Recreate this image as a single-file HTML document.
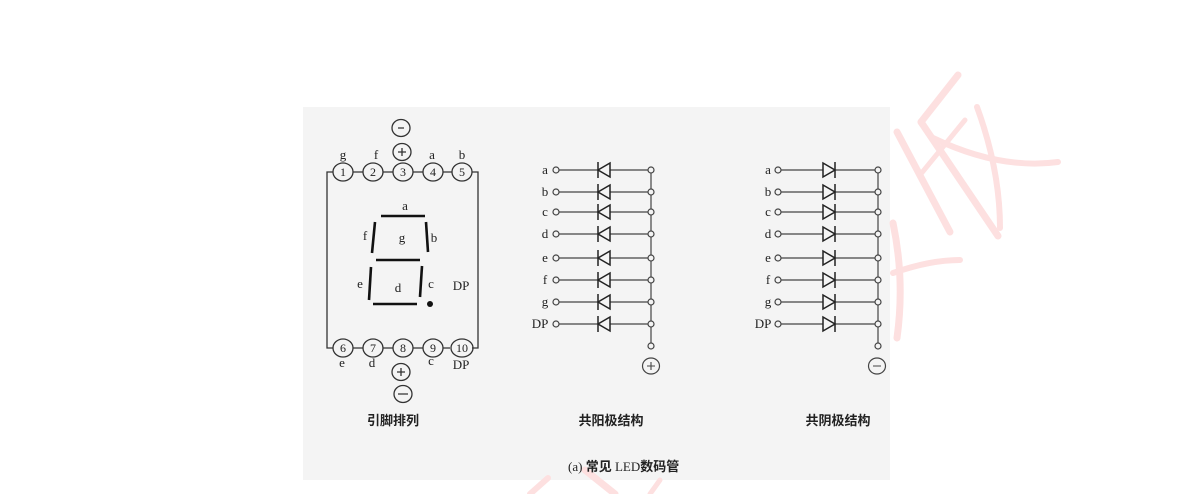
<!DOCTYPE html>
<html><head><meta charset="utf-8"><style>
html,body{margin:0;padding:0;background:#fff;}
svg{display:block;}
text{font-family:"Liberation Serif","Noto Serif CJK SC",serif;fill:#222;}
.cj{font-family:"Liberation Serif","Noto Sans CJK SC",sans-serif;font-weight:bold;}
</style></head><body>
<svg width="1194" height="494" viewBox="0 0 1194 494" xmlns="http://www.w3.org/2000/svg">
<defs>
<g id="dA"><path d="M610 -7 L598 0 L610 7 Z"/><path d="M598 -8 V8"/></g>
<g id="dK"><path d="M823 -7 L835 0 L823 7 Z"/><path d="M835 -8 V8"/></g>
</defs>
<rect x="303" y="107" width="587" height="373" fill="#f4f4f4"/>
<!-- watermark -->
<g stroke="#fde0e0" fill="none" stroke-linecap="round">
<path d="M958 75 L921 122" stroke-width="7"/>
<path d="M921 122 Q960 180 998 236" stroke-width="7"/>
<path d="M977 107 Q1000 170 1000 228" stroke-width="6"/>
<path d="M897 132 Q925 185 950 232" stroke-width="7"/>
<path d="M933 138 Q1000 170 1058 162" stroke-width="6"/>
<path d="M965 120 L920 175" stroke-width="5"/>
<path d="M893 223 Q905 280 897 338" stroke-width="7"/>
<path d="M893 273 Q930 260 960 260" stroke-width="6"/>
<path d="M530 494 L548 478" stroke-width="6"/>
<path d="M585 470 L615 494" stroke-width="7"/>
<path d="M660 480 L650 494" stroke-width="5"/>
</g>
<g stroke="#333" stroke-width="1.3" fill="none">
<path d="M333 172 H327 V348 H333"/>
<path d="M472 172 H478 V348 H472"/>
<path d="M353 172 H363 M383 172 H393 M413 172 H423 M443 172 H452"/>
<path d="M353 348 H363 M383 348 H393 M413 348 H423 M443 348 H450"/>
<ellipse cx="343" cy="172" rx="10" ry="9"/><ellipse cx="373" cy="172" rx="10" ry="9"/><ellipse cx="403" cy="172" rx="10" ry="9"/><ellipse cx="433" cy="172" rx="10" ry="9"/><ellipse cx="462" cy="172" rx="10" ry="9"/>
<ellipse cx="343" cy="348" rx="10" ry="9"/><ellipse cx="373" cy="348" rx="10" ry="9"/><ellipse cx="403" cy="348" rx="10" ry="9"/><ellipse cx="433" cy="348" rx="10" ry="9"/><ellipse cx="462" cy="348" rx="11" ry="9"/>
<ellipse cx="402" cy="152" rx="9" ry="8.5"/><ellipse cx="401" cy="128" rx="9" ry="8.5"/>
<ellipse cx="401" cy="372" rx="9" ry="8.5"/><ellipse cx="403" cy="394" rx="9" ry="8.5"/>
<path d="M398 128 H404 M398 394 H408 M398 152 H406 M402 148 V156 M397 372 H405 M401 368 V376"/>
</g>
<g stroke="#111" stroke-width="2.6" fill="none">
<path d="M381 216 H425"/><path d="M375 222 L372 253"/><path d="M426 222 L428 252"/>
<path d="M376 260 H420"/><path d="M371 267 L369 300"/><path d="M422 266 L420 297"/><path d="M373 304 H417"/>
</g>
<circle cx="430" cy="304" r="3" fill="#111"/>
<g font-size="13">
<text x="343" y="159" text-anchor="middle">g</text><text x="376" y="159" text-anchor="middle">f</text>
<text x="432" y="159" text-anchor="middle">a</text><text x="462" y="159" text-anchor="middle">b</text>
<text x="343" y="176" text-anchor="middle" font-size="12">1</text><text x="373" y="176" text-anchor="middle" font-size="12">2</text><text x="403" y="176" text-anchor="middle" font-size="12">3</text><text x="433" y="176" text-anchor="middle" font-size="12">4</text><text x="462" y="176" text-anchor="middle" font-size="12">5</text>
<text x="343" y="352" text-anchor="middle" font-size="12">6</text><text x="373" y="352" text-anchor="middle" font-size="12">7</text><text x="403" y="352" text-anchor="middle" font-size="12">8</text><text x="433" y="352" text-anchor="middle" font-size="12">9</text><text x="462" y="352" text-anchor="middle" font-size="12">10</text>
<text x="342" y="367" text-anchor="middle">e</text><text x="372" y="367" text-anchor="middle">d</text><text x="431" y="365" text-anchor="middle">c</text><text x="461" y="369" text-anchor="middle">DP</text>
<text x="405" y="210" text-anchor="middle">a</text><text x="365" y="240" text-anchor="middle">f</text><text x="402" y="242" text-anchor="middle">g</text><text x="434" y="242" text-anchor="middle">b</text>
<text x="360" y="288" text-anchor="middle">e</text><text x="398" y="292" text-anchor="middle">d</text><text x="431" y="288" text-anchor="middle">c</text><text x="461" y="290" text-anchor="middle">DP</text>
</g>
<g stroke="#444" stroke-width="1.2" fill="none">
<path d="M651 170 V346"/>
<path d="M559 170 H651 M559 192 H651 M559 212 H651 M559 234 H651 M559 258 H651 M559 280 H651 M559 302 H651 M559 324 H651"/>
<path d="M878 170 V346"/>
<path d="M781 170 H878 M781 192 H878 M781 212 H878 M781 234 H878 M781 258 H878 M781 280 H878 M781 302 H878 M781 324 H878"/>
</g>
<g fill="#f4f4f4" stroke="#444" stroke-width="1.2">
<circle cx="556" cy="170" r="3"/><circle cx="556" cy="192" r="3"/><circle cx="556" cy="212" r="3"/><circle cx="556" cy="234" r="3"/><circle cx="556" cy="258" r="3"/><circle cx="556" cy="280" r="3"/><circle cx="556" cy="302" r="3"/><circle cx="556" cy="324" r="3"/>
<circle cx="651" cy="170" r="3"/><circle cx="651" cy="192" r="3"/><circle cx="651" cy="212" r="3"/><circle cx="651" cy="234" r="3"/><circle cx="651" cy="258" r="3"/><circle cx="651" cy="280" r="3"/><circle cx="651" cy="302" r="3"/><circle cx="651" cy="324" r="3"/><circle cx="651" cy="346" r="3"/>
<circle cx="778" cy="170" r="3"/><circle cx="778" cy="192" r="3"/><circle cx="778" cy="212" r="3"/><circle cx="778" cy="234" r="3"/><circle cx="778" cy="258" r="3"/><circle cx="778" cy="280" r="3"/><circle cx="778" cy="302" r="3"/><circle cx="778" cy="324" r="3"/>
<circle cx="878" cy="170" r="3"/><circle cx="878" cy="192" r="3"/><circle cx="878" cy="212" r="3"/><circle cx="878" cy="234" r="3"/><circle cx="878" cy="258" r="3"/><circle cx="878" cy="280" r="3"/><circle cx="878" cy="302" r="3"/><circle cx="878" cy="324" r="3"/><circle cx="878" cy="346" r="3"/>
<ellipse cx="651" cy="366" rx="8.5" ry="8"/><ellipse cx="877" cy="366" rx="8.5" ry="8"/>
</g>
<path d="M647 366 H655 M651 362 V370 M873 366 H881" stroke="#444" stroke-width="1.1"/>
<g stroke="#222" stroke-width="1.5" fill="#f4f4f4">
<use href="#dA" y="170"/><use href="#dA" y="192"/><use href="#dA" y="212"/><use href="#dA" y="234"/><use href="#dA" y="258"/><use href="#dA" y="280"/><use href="#dA" y="302"/><use href="#dA" y="324"/>
<use href="#dK" y="170"/><use href="#dK" y="192"/><use href="#dK" y="212"/><use href="#dK" y="234"/><use href="#dK" y="258"/><use href="#dK" y="280"/><use href="#dK" y="302"/><use href="#dK" y="324"/>
</g>
<g font-size="13">
<text x="545" y="174" text-anchor="middle">a</text><text x="545" y="196" text-anchor="middle">b</text><text x="545" y="216" text-anchor="middle">c</text><text x="545" y="238" text-anchor="middle">d</text><text x="545" y="262" text-anchor="middle">e</text><text x="545" y="284" text-anchor="middle">f</text><text x="545" y="306" text-anchor="middle">g</text><text x="540" y="328" text-anchor="middle">DP</text>
<text x="768" y="174" text-anchor="middle">a</text><text x="768" y="196" text-anchor="middle">b</text><text x="768" y="216" text-anchor="middle">c</text><text x="768" y="238" text-anchor="middle">d</text><text x="768" y="262" text-anchor="middle">e</text><text x="768" y="284" text-anchor="middle">f</text><text x="768" y="306" text-anchor="middle">g</text><text x="763" y="328" text-anchor="middle">DP</text>
</g>
<g font-size="13">
<text x="393" y="425" text-anchor="middle" class="cj">引脚排列</text>
<text x="611" y="425" text-anchor="middle" class="cj">共阳极结构</text>
<text x="838" y="425" text-anchor="middle" class="cj">共阴极结构</text>
</g>
<text x="568" y="471" font-size="13">(a) <tspan class="cj">常见</tspan> LED<tspan class="cj">数码管</tspan></text>
</svg>
</body></html>
